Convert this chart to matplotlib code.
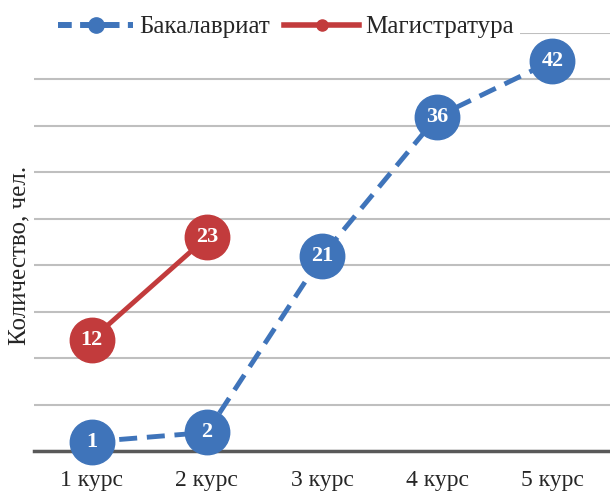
import matplotlib.pyplot as plt
from matplotlib.lines import Line2D
from matplotlib.patches import Rectangle

plt.rcParams['font.family'] = ['Liberation Serif', 'DejaVu Serif']

courses = ['1 курс', '2 курс', '3 курс', '4 курс', '5 курс']
bachelor = [1, 2, 21, 36, 42]
master = [12, 23]

blue = '#3F74BA'
red = '#C23B3C'
text_col = '#262626'

fig = plt.figure(figsize=(6.1, 4.95), dpi=100)
ax = fig.add_axes([34 / 610, 44 / 495, 1 - 34 / 610, (451 - 33) / 495])

x_b = list(range(len(bachelor)))
x_m = list(range(len(master)))

ax.plot(x_b, bachelor, color=blue, lw=3.5, linestyle=(0, (3.7, 2.0)),
        marker='o', markersize=32, markerfacecolor=blue, markeredgecolor=blue,
        zorder=3, clip_on=False)
ax.plot(x_m, master, color=red, lw=3.5, marker='o', markersize=32,
        markerfacecolor=red, markeredgecolor=red, zorder=3, clip_on=False)

for x, v in zip(x_b, bachelor):
    ax.text(x, v, str(v), color='white', fontsize=16, fontweight='bold',
            ha='center', va='center', zorder=4)
for x, v in zip(x_m, master):
    ax.text(x, v, str(v), color='white', fontsize=16, fontweight='bold',
            ha='center', va='center', zorder=4)

ax.set_xlim(-0.5, len(courses) - 0.5)
ax.set_ylim(0, 45)
ax.set_yticks(range(0, 46, 5))
ax.set_yticklabels([])
ax.tick_params(axis='y', length=0)
ax.tick_params(axis='x', length=0, labelsize=17, pad=14, labelcolor=text_col)
ax.set_xticks(range(len(courses)))
ax.set_xticklabels(courses)
ax.grid(axis='y', color='#BFBFBF', lw=1.5)
ax.set_axisbelow(True)
for s in ['top', 'right', 'left']:
    ax.spines[s].set_visible(False)
ax.spines['bottom'].set_color('#595959')
ax.spines['bottom'].set_linewidth(2.5)

ax.set_ylabel('Количество, чел.', fontsize=18, color=text_col)
ax.yaxis.set_label_coords(-0.006, 0.469)

# white band behind the legend hides the top gridline
fig.patches.append(Rectangle((30 / 610, 1 - 40 / 495), 490 / 610, 12 / 495,
                             transform=fig.transFigure, facecolor='white',
                             edgecolor='none', zorder=1))

handles = [
    Line2D([], [], color=blue, lw=4.3, linestyle=(0.3, (2.6, 1.4)), marker='o',
           markersize=11, markerfacecolor=blue, markeredgecolor=blue),
    Line2D([], [], color=red, lw=4, marker='o', markersize=8,
           markerfacecolor=red, markeredgecolor=red),
]
leg = fig.legend(handles, ['Бакалавриат', 'Магистратура'], loc='center',
                 bbox_to_anchor=(286 / 610, 1 - 27 / 495), ncol=2,
                 frameon=False, fontsize=18, handlelength=3.0,
                 columnspacing=0.56, handletextpad=0.25, borderpad=0.2,
                 labelcolor=text_col)

fig.savefig('out.png', dpi=100)
